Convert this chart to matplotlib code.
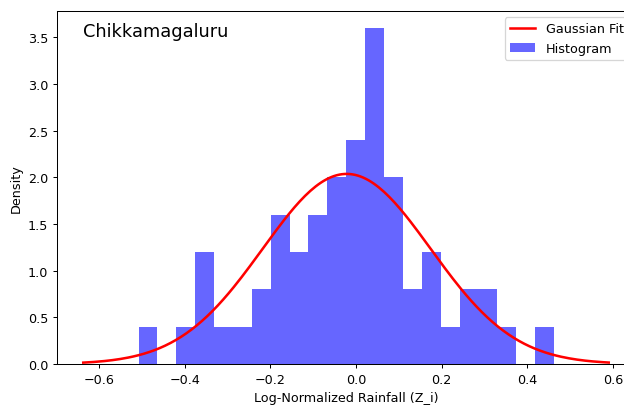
import matplotlib
matplotlib.use('Agg')
import matplotlib.pyplot as plt
import numpy as np

# Histogram of log-normalized rainfall (density per bin)
bin_lo, bin_hi, n_bins = -0.508, 0.462, 22
density = [0.4, 0.0, 0.4, 1.2, 0.4, 0.4, 0.8, 1.6, 1.2, 1.6, 2.0,
           2.4, 3.6, 2.0, 0.8, 1.2, 0.4, 0.8, 0.8, 0.4, 0.0, 0.4]

# Gaussian fit parameters and plotted range
mu, sigma = -0.022, 0.196
fit_lo, fit_hi = -0.637, 0.590

station = 'Chikkamagaluru'

dpi = 91.44
fig = plt.figure(figsize=(624 / dpi, 408 / dpi), dpi=dpi)
ax = fig.add_axes([57 / 624, 43 / 408, 578 / 624, 353 / 408])

# fitted curve first so it comes first in the legend
x = np.linspace(fit_lo, fit_hi, 200)
pdf = np.exp(-0.5 * ((x - mu) / sigma) ** 2) / (sigma * np.sqrt(2 * np.pi))
ax.plot(x, pdf, 'r-', lw=2, label='Gaussian Fit')

edges = np.linspace(bin_lo, bin_hi, n_bins + 1)
ax.hist(edges[:-1], bins=edges, weights=density, color='b', alpha=0.6,
        label='Histogram')

ax.set_xlabel('Log-Normalized Rainfall (Z_i)')
ax.set_ylabel('Density')
ax.text(0.045, 0.93, station, transform=ax.transAxes, fontsize=14,
        ha='left', va='baseline')
ax.legend(loc='upper right')

fig.savefig('out.png', dpi=dpi)
